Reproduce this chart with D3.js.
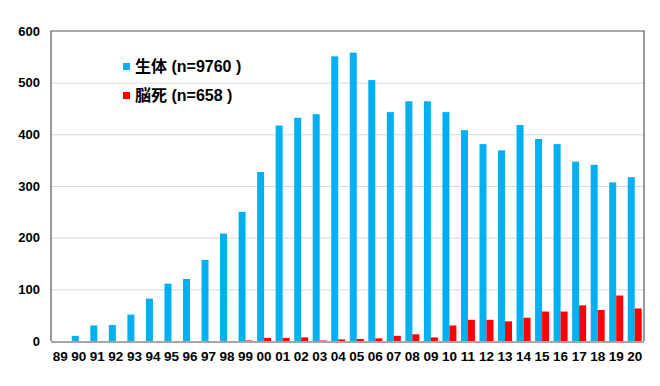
<!DOCTYPE html>
<html>
<head>
<meta charset="utf-8">
<script src="https://cdn.jsdelivr.net/npm/d3@7"></script>
<style>
  body { margin: 0; background: #fff; }
  text { font-family: "Liberation Sans", Arial, "Noto Sans CJK JP", sans-serif; font-weight: bold; fill: #000; }
</style>
</head>
<body>
<svg width="660" height="386"></svg>
<script>
// year labels (19xx / 20xx)
var years = ["89","90","91","92","93","94","95","96","97","98","99","00","01","02","03","04",
             "05","06","07","08","09","10","11","12","13","14","15","16","17","18","19","20"];
// living donor
var living = [0,10,30,31,51,82,111,120,157,208,250,327,417,432,439,551,
              558,505,443,464,464,443,408,381,369,418,391,381,347,341,307,317];
// brain death
var brainDeath = [0,0,0,0,0,0,0,0,0,0,1,6,6,7,1,3,
                  4,5,10,13,7,30,41,41,38,45,57,57,69,60,88,63];
var seriesNames = ["生体 (n=9760 )", "脳死 (n=658 )"];
var yTicks = [0,100,200,300,400,500,600];

var colors = ["#00b0f0", "#ff0000"];
var mLeft = 51, mRight = 644, mTop = 31, mBottom = 341;

var svg = d3.select("svg");

var y = d3.scaleLinear().domain([0, 600]).range([mBottom, mTop]);
var x = d3.scaleBand().domain(years).range([mLeft, mRight])
  .paddingInner(0.245).paddingOuter(0.1225);
var xs = d3.scaleBand().domain([0, 1]).range([0, x.bandwidth()]);

// gridlines
svg.selectAll(".grid").data(yTicks.filter(function(d){ return d > 0 && d < 600; }))
  .enter().append("line")
  .attr("x1", mLeft).attr("x2", mRight)
  .attr("y1", function(d){ return y(d) + 0.5; })
  .attr("y2", function(d){ return y(d) + 0.5; })
  .attr("stroke", "#d9d9d9").attr("stroke-width", 1);

// bars
var rows = years.map(function(yr, i){ return {year: yr, vals: [living[i], brainDeath[i]]}; });
var g = svg.selectAll(".grp").data(rows).enter().append("g")
  .attr("transform", function(d){ return "translate(" + x(d.year) + ",0)"; });
g.selectAll("rect").data(function(d){ return d.vals; }).enter().append("rect")
  .attr("x", function(d, i){ return xs(i); })
  .attr("width", xs.bandwidth())
  .attr("y", function(d){ return y(d); })
  .attr("height", function(d){ return mBottom - y(d); })
  .attr("fill", function(d, i){ return colors[i]; });

// frame
svg.append("path")
  .attr("d", "M" + mLeft + "," + mBottom + "V" + mTop + "H" + mRight + "V" + mBottom)
  .attr("fill", "none").attr("stroke", "#595959").attr("stroke-width", 1.2);
svg.append("line")
  .attr("x1", mLeft).attr("x2", mRight).attr("y1", mBottom + 1).attr("y2", mBottom + 1)
  .attr("stroke", "#a6a6a6").attr("stroke-width", 2);

// y axis labels
var yAxis = d3.axisLeft(y).tickValues(yTicks).tickSize(0).tickPadding(11);
var ya = svg.append("g").attr("transform", "translate(" + mLeft + ",0)").call(yAxis);
ya.select(".domain").remove();
ya.attr("font-family", null).attr("font-size", null);
ya.selectAll("text").attr("font-size", 13);

// x axis labels
var xAxis = d3.axisBottom(x).tickSize(0).tickPadding(10);
var xa = svg.append("g").attr("transform", "translate(0," + mBottom + ")").call(xAxis);
xa.select(".domain").remove();
xa.attr("font-family", null).attr("font-size", null);
xa.selectAll("text").attr("font-size", 13.5);

// legend
var lg = svg.selectAll(".leg").data(seriesNames).enter().append("g")
  .attr("transform", function(d, i){ return "translate(123," + (63 + i * 29) + ")"; });
lg.append("rect").attr("width", 7).attr("height", 7)
  .attr("fill", function(d, i){ return colors[i]; });
lg.append("text").attr("x", 12).attr("y", 8.5)
  .attr("font-size", 16).text(function(d){ return d; });
</script>
</body>
</html>
